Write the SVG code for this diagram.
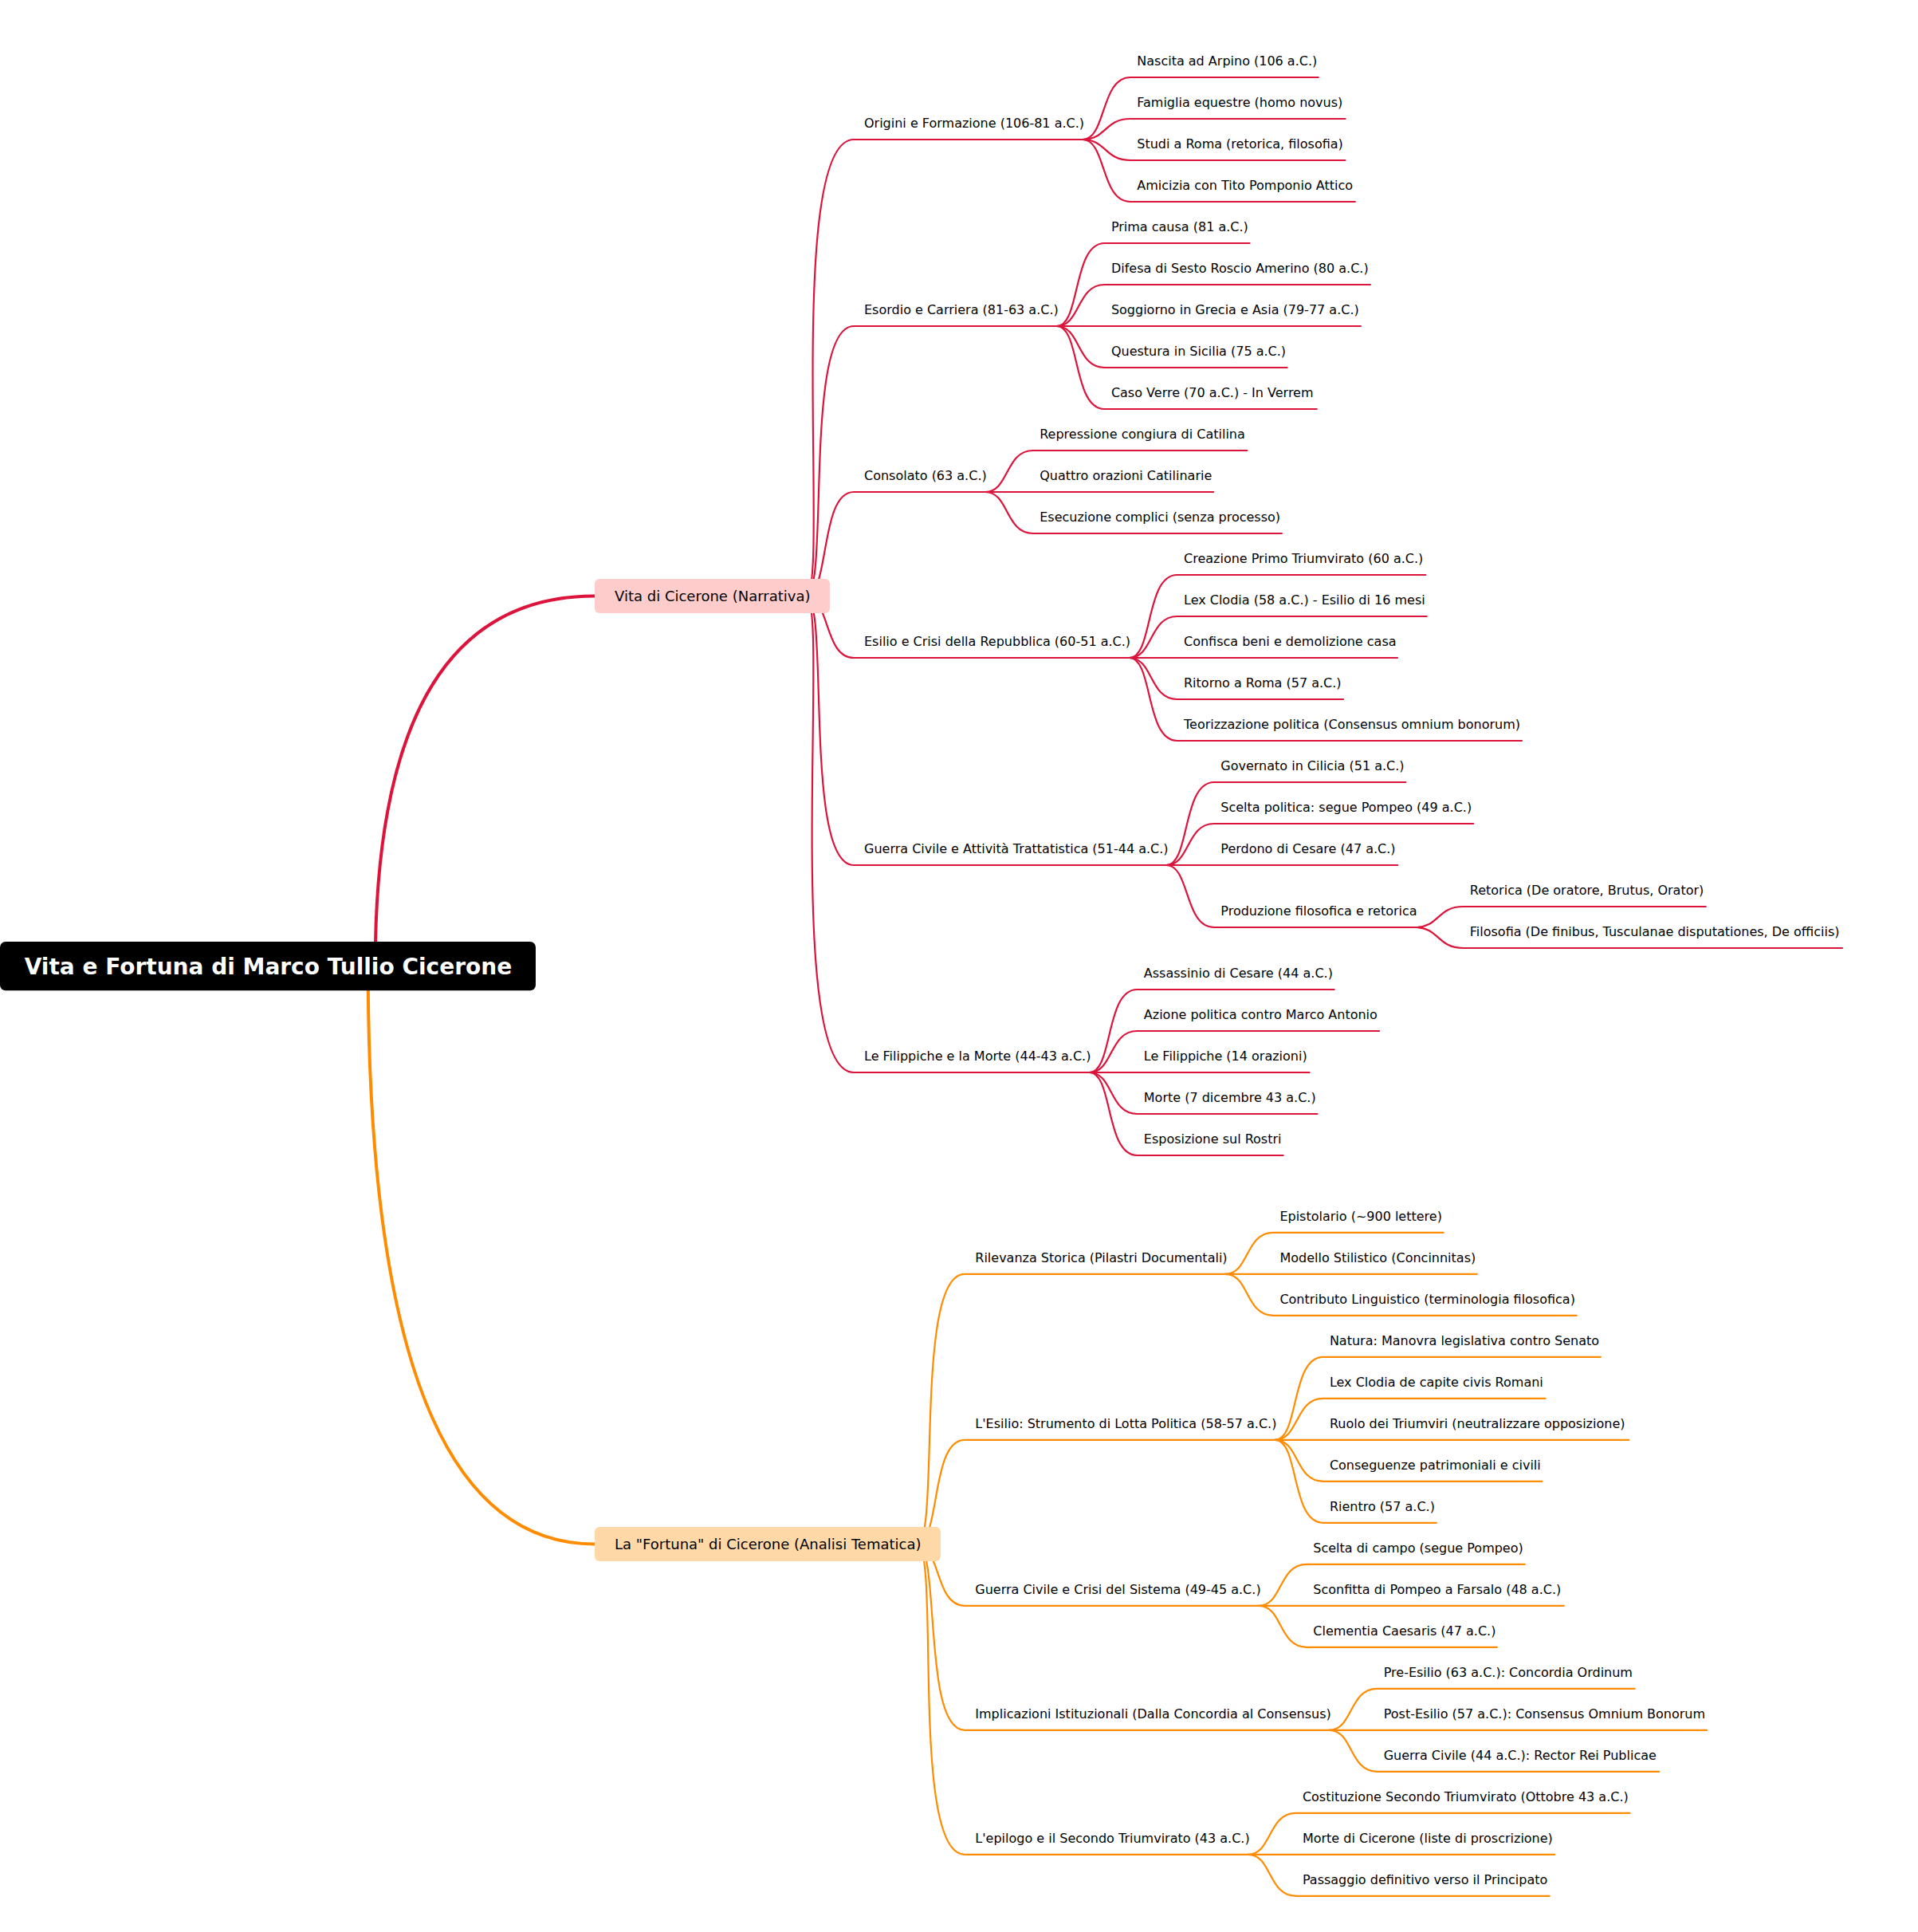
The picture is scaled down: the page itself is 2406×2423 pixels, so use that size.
<svg xmlns="http://www.w3.org/2000/svg" width="2406" height="2423" viewBox="0 0 2406 2423">
<style>
text{font-family:"DejaVu Sans","Liberation Sans",sans-serif;font-size:16px;fill:#000}
.root text{font-size:28px;font-weight:bold;fill:#fff}
.pri text{font-size:18px}
path{fill:none;stroke-linecap:round}
.r{stroke:#DC143C}
.o{stroke:#FF8C00}
.m{stroke-width:4}
.s{stroke-width:2.2}
</style>
<rect width="2406" height="2423" fill="#fff"/>
<g id="connectors">
<path class="r m" d="M470.7,1211.7 Q470.7,747.5 746,747.5"/>
<path class="o m" d="M461.7,1211.7 Q461.7,1936.5 746,1936.5"/>
<g class="r s">
<path d="M1011,747.5 C1041,747.5 983.75,175 1071,175 H1358"/>
<path d="M1011,747.5 C1041,747.5 1007.15,409 1071,409 H1325.6"/>
<path d="M1011,747.5 C1041,747.5 1027.95,617 1071,617 H1235.9"/>
<path d="M1011,747.5 C1041,747.5 1033.25,825 1071,825 H1416.7"/>
<path d="M1011,747.5 C1041,747.5 1007.25,1085 1071,1085 H1463"/>
<path d="M1011,747.5 C1041,747.5 981.25,1345 1071,1345 H1366.5"/>
<path d="M1358,175 C1388,175 1380.2,97 1418,97 H1653.8"/>
<path d="M1358,175 C1388,175 1385.4,149 1418,149 H1687.6"/>
<path d="M1358,175 C1388,175 1385.4,201 1418,201 H1687.4"/>
<path d="M1358,175 C1388,175 1380.2,253 1418,253 H1699.9"/>
<path d="M1325.6,409 C1355.6,409 1345.2,305 1385.6,305 H1567.6"/>
<path d="M1325.6,409 C1355.6,409 1350.4,357 1385.6,357 H1718.9"/>
<path d="M1325.6,409 C1355.6,409 1355.6,409 1385.6,409 H1706.9"/>
<path d="M1325.6,409 C1355.6,409 1350.4,461 1385.6,461 H1614.6"/>
<path d="M1325.6,409 C1355.6,409 1345.2,513 1385.6,513 H1651.8"/>
<path d="M1235.9,617 C1265.9,617 1260.7,565 1295.9,565 H1564.4"/>
<path d="M1235.9,617 C1265.9,617 1265.9,617 1295.9,617 H1522.1"/>
<path d="M1235.9,617 C1265.9,617 1260.7,669 1295.9,669 H1607.9"/>
<path d="M1416.7,825 C1446.7,825 1436.3,721 1476.7,721 H1788.3"/>
<path d="M1416.7,825 C1446.7,825 1441.5,773 1476.7,773 H1789.7"/>
<path d="M1416.7,825 C1446.7,825 1446.7,825 1476.7,825 H1753"/>
<path d="M1416.7,825 C1446.7,825 1441.5,877 1476.7,877 H1685.1"/>
<path d="M1416.7,825 C1446.7,825 1436.3,929 1476.7,929 H1909"/>
<path d="M1463,1085 C1493,1085 1482.6,981 1523,981 H1763.4"/>
<path d="M1463,1085 C1493,1085 1487.8,1033 1523,1033 H1848.2"/>
<path d="M1463,1085 C1493,1085 1493,1085 1523,1085 H1753.3"/>
<path d="M1463,1085 C1493,1085 1485.2,1163 1523,1163 H1775.4"/>
<path d="M1775.4,1163 C1805.4,1163 1802.8,1137 1835.4,1137 H2139.8"/>
<path d="M1775.4,1163 C1805.4,1163 1802.8,1189 1835.4,1189 H2311"/>
<path d="M1366.5,1345 C1396.5,1345 1386.1,1241 1426.5,1241 H1673.7"/>
<path d="M1366.5,1345 C1396.5,1345 1391.3,1293 1426.5,1293 H1730"/>
<path d="M1366.5,1345 C1396.5,1345 1396.5,1345 1426.5,1345 H1642.6"/>
<path d="M1366.5,1345 C1396.5,1345 1391.3,1397 1426.5,1397 H1652.5"/>
<path d="M1366.5,1345 C1396.5,1345 1386.1,1449 1426.5,1449 H1609.7"/>
</g>
<g class="o s">
<path d="M1150,1936.5 C1180,1936.5 1146.13,1597.8 1210,1597.8 H1537.1"/>
<path d="M1150,1936.5 C1180,1936.5 1166.93,1805.8 1210,1805.8 H1599.6"/>
<path d="M1150,1936.5 C1180,1936.5 1172.27,2013.8 1210,2013.8 H1579"/>
<path d="M1150,1936.5 C1180,1936.5 1156.67,2169.8 1210,2169.8 H1667.4"/>
<path d="M1150,1936.5 C1180,1936.5 1141.07,2325.8 1210,2325.8 H1565.6"/>
<path d="M1537.1,1597.8 C1567.1,1597.8 1561.9,1545.8 1597.1,1545.8 H1810.8"/>
<path d="M1537.1,1597.8 C1567.1,1597.8 1567.1,1597.8 1597.1,1597.8 H1852.7"/>
<path d="M1537.1,1597.8 C1567.1,1597.8 1561.9,1649.8 1597.1,1649.8 H1977.7"/>
<path d="M1599.6,1805.8 C1629.6,1805.8 1619.2,1701.8 1659.6,1701.8 H2007.9"/>
<path d="M1599.6,1805.8 C1629.6,1805.8 1624.4,1753.8 1659.6,1753.8 H1938.6"/>
<path d="M1599.6,1805.8 C1629.6,1805.8 1629.6,1805.8 1659.6,1805.8 H2043.4"/>
<path d="M1599.6,1805.8 C1629.6,1805.8 1624.4,1857.8 1659.6,1857.8 H1934.3"/>
<path d="M1599.6,1805.8 C1629.6,1805.8 1619.2,1909.8 1659.6,1909.8 H1801.8"/>
<path d="M1579,2013.8 C1609,2013.8 1603.8,1961.8 1639,1961.8 H1912.8"/>
<path d="M1579,2013.8 C1609,2013.8 1609,2013.8 1639,2013.8 H1961.8"/>
<path d="M1579,2013.8 C1609,2013.8 1603.8,2065.8 1639,2065.8 H1877.9"/>
<path d="M1667.4,2169.8 C1697.4,2169.8 1692.2,2117.8 1727.4,2117.8 H2050.7"/>
<path d="M1667.4,2169.8 C1697.4,2169.8 1697.4,2169.8 1727.4,2169.8 H2141.1"/>
<path d="M1667.4,2169.8 C1697.4,2169.8 1692.2,2221.8 1727.4,2221.8 H2081.3"/>
<path d="M1565.6,2325.8 C1595.6,2325.8 1590.4,2273.8 1625.6,2273.8 H2044.5"/>
<path d="M1565.6,2325.8 C1595.6,2325.8 1595.6,2325.8 1625.6,2325.8 H1950.1"/>
<path d="M1565.6,2325.8 C1595.6,2325.8 1590.4,2377.8 1625.6,2377.8 H1943.8"/>
</g>
</g>
<g id="root" class="root"><rect x="0" y="1181" width="672" height="61.3" rx="7" fill="#000"/><text x="30.7" y="1222.3">Vita e Fortuna di Marco Tullio Cicerone</text></g>
<g id="vita" class="pri"><rect x="746" y="726" width="295" height="43" rx="6" fill="#FFCCCC"/><text x="771" y="754">Vita di Cicerone (Narrativa)</text></g>
<g id="fortuna" class="pri"><rect x="746" y="1915" width="434" height="43" rx="6" fill="#FFD8A8"/><text x="771" y="1943.3">La "Fortuna" di Cicerone (Analisi Tematica)</text></g>
<g id="origini"><text x="1084" y="160.3">Origini e Formazione (106-81 a.C.)</text></g>
<g id="nascita"><text x="1426.3" y="82.3">Nascita ad Arpino (106 a.C.)</text></g>
<g id="famiglia"><text x="1426.3" y="134.3">Famiglia equestre (homo novus)</text></g>
<g id="studi"><text x="1426.3" y="186.3">Studi a Roma (retorica, filosofia)</text></g>
<g id="amicizia"><text x="1426.3" y="238.3">Amicizia con Tito Pomponio Attico</text></g>
<g id="esordio"><text x="1084" y="394.3">Esordio e Carriera (81-63 a.C.)</text></g>
<g id="prima"><text x="1393.9" y="290.3">Prima causa (81 a.C.)</text></g>
<g id="difesa"><text x="1393.9" y="342.3">Difesa di Sesto Roscio Amerino (80 a.C.)</text></g>
<g id="soggiorno"><text x="1393.9" y="394.3">Soggiorno in Grecia e Asia (79-77 a.C.)</text></g>
<g id="questura"><text x="1393.9" y="446.3">Questura in Sicilia (75 a.C.)</text></g>
<g id="verre"><text x="1393.9" y="498.3">Caso Verre (70 a.C.) - In Verrem</text></g>
<g id="consolato"><text x="1084" y="602.3">Consolato (63 a.C.)</text></g>
<g id="repressione"><text x="1304.2" y="550.3">Repressione congiura di Catilina</text></g>
<g id="quattro"><text x="1304.2" y="602.3">Quattro orazioni Catilinarie</text></g>
<g id="esecuzione"><text x="1304.2" y="654.3">Esecuzione complici (senza processo)</text></g>
<g id="esilio"><text x="1084" y="810.3">Esilio e Crisi della Repubblica (60-51 a.C.)</text></g>
<g id="creazione"><text x="1485" y="706.3">Creazione Primo Triumvirato (60 a.C.)</text></g>
<g id="lexclodia"><text x="1485" y="758.3">Lex Clodia (58 a.C.) - Esilio di 16 mesi</text></g>
<g id="confisca"><text x="1485" y="810.3">Confisca beni e demolizione casa</text></g>
<g id="ritorno"><text x="1485" y="862.3">Ritorno a Roma (57 a.C.)</text></g>
<g id="teorizzazione"><text x="1485" y="914.3">Teorizzazione politica (Consensus omnium bonorum)</text></g>
<g id="guerra"><text x="1084" y="1070.3">Guerra Civile e Attività Trattatistica (51-44 a.C.)</text></g>
<g id="governato"><text x="1531.3" y="966.3">Governato in Cilicia (51 a.C.)</text></g>
<g id="scelta"><text x="1531.3" y="1018.3">Scelta politica: segue Pompeo (49 a.C.)</text></g>
<g id="perdono"><text x="1531.3" y="1070.3">Perdono di Cesare (47 a.C.)</text></g>
<g id="produzione"><text x="1531.3" y="1148.3">Produzione filosofica e retorica</text></g>
<g id="retorica"><text x="1843.8" y="1122.3">Retorica (De oratore, Brutus, Orator)</text></g>
<g id="filosofia"><text x="1843.8" y="1174.3">Filosofia (De finibus, Tusculanae disputationes, De officiis)</text></g>
<g id="filippiche"><text x="1084" y="1330.3">Le Filippiche e la Morte (44-43 a.C.)</text></g>
<g id="assassinio"><text x="1434.8" y="1226.3">Assassinio di Cesare (44 a.C.)</text></g>
<g id="azione"><text x="1434.8" y="1278.3">Azione politica contro Marco Antonio</text></g>
<g id="filippiche14"><text x="1434.8" y="1330.3">Le Filippiche (14 orazioni)</text></g>
<g id="morte"><text x="1434.8" y="1382.3">Morte (7 dicembre 43 a.C.)</text></g>
<g id="esposizione"><text x="1434.8" y="1434.3">Esposizione sul Rostri</text></g>
<g id="rilevanza"><text x="1223.3" y="1583.1">Rilevanza Storica (Pilastri Documentali)</text></g>
<g id="epistolario"><text x="1605.4" y="1531.1">Epistolario (~900 lettere)</text></g>
<g id="modello"><text x="1605.4" y="1583.1">Modello Stilistico (Concinnitas)</text></g>
<g id="contributo"><text x="1605.4" y="1635.1">Contributo Linguistico (terminologia filosofica)</text></g>
<g id="lesilio"><text x="1223.3" y="1791.1">L'Esilio: Strumento di Lotta Politica (58-57 a.C.)</text></g>
<g id="natura"><text x="1667.9" y="1687.1">Natura: Manovra legislativa contro Senato</text></g>
<g id="lexcapite"><text x="1667.9" y="1739.1">Lex Clodia de capite civis Romani</text></g>
<g id="ruolo"><text x="1667.9" y="1791.1">Ruolo dei Triumviri (neutralizzare opposizione)</text></g>
<g id="conseguenze"><text x="1667.9" y="1843.1">Conseguenze patrimoniali e civili</text></g>
<g id="rientro"><text x="1667.9" y="1895.1">Rientro (57 a.C.)</text></g>
<g id="guerracc"><text x="1223.3" y="1999.1">Guerra Civile e Crisi del Sistema (49-45 a.C.)</text></g>
<g id="sceltacampo"><text x="1647.3" y="1947.1">Scelta di campo (segue Pompeo)</text></g>
<g id="sconfitta"><text x="1647.3" y="1999.1">Sconfitta di Pompeo a Farsalo (48 a.C.)</text></g>
<g id="clementia"><text x="1647.3" y="2051.1">Clementia Caesaris (47 a.C.)</text></g>
<g id="implicazioni"><text x="1223.3" y="2155.1">Implicazioni Istituzionali (Dalla Concordia al Consensus)</text></g>
<g id="preesilio"><text x="1735.7" y="2103.1">Pre-Esilio (63 a.C.): Concordia Ordinum</text></g>
<g id="postesilio"><text x="1735.7" y="2155.1">Post-Esilio (57 a.C.): Consensus Omnium Bonorum</text></g>
<g id="guerra44"><text x="1735.7" y="2207.1">Guerra Civile (44 a.C.): Rector Rei Publicae</text></g>
<g id="epilogo"><text x="1223.3" y="2311.1">L'epilogo e il Secondo Triumvirato (43 a.C.)</text></g>
<g id="costituzione"><text x="1633.9" y="2259.1">Costituzione Secondo Triumvirato (Ottobre 43 a.C.)</text></g>
<g id="mortecicerone"><text x="1633.9" y="2311.1">Morte di Cicerone (liste di proscrizione)</text></g>
<g id="passaggio"><text x="1633.9" y="2363.1">Passaggio definitivo verso il Principato</text></g>
</svg>
